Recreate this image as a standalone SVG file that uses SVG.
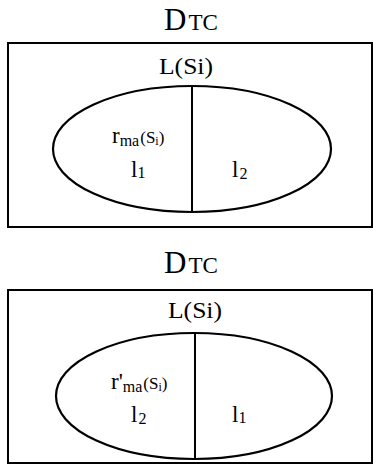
<svg xmlns="http://www.w3.org/2000/svg" width="373" height="476" viewBox="0 0 373 476">
<style>
text{font-family:"Liberation Serif","Times New Roman",serif;fill:#000}
.frame{fill:none;stroke:#000;stroke-width:2}
.ell{fill:#fff;stroke:#000;stroke-width:2.2}
.div{stroke:#000;stroke-width:2}
.big{font-size:31px}
.sc{font-size:23px}
.lab{font-size:23px}
.r{font-size:23px}
.ma{font-size:16px}
.par{font-size:17px}
.i{font-size:12px}
.n{font-size:16px}
</style>
<rect width="373" height="476" fill="#fff"/>
<g id="panel1">
  <text x="164" y="30"><tspan class="big">D</tspan><tspan class="sc" dx="2">TC</tspan></text>
  <rect class="frame" x="8" y="43" width="364" height="184"/>
  <g id="set1">
    <ellipse class="ell" cx="192" cy="149" rx="139" ry="63"/>
    <line class="div" x1="192" y1="86" x2="192" y2="212"/>
    <text class="lab" x="159" y="74" textLength="54" lengthAdjust="spacingAndGlyphs">L(Si)</text>
    <text x="112" y="143"><tspan class="r">r</tspan><tspan class="ma" dy="3">ma</tspan><tspan class="par" dy="-3" dx="1">(S</tspan><tspan class="i" dy="2">i</tspan><tspan class="par" dy="-2">)</tspan></text>
    <text x="131" y="177"><tspan class="lab">l</tspan><tspan class="n" dy="1">1</tspan></text>
    <text x="232" y="177"><tspan class="lab">l</tspan><tspan class="n" dy="2" dx="1">2</tspan></text>
  </g>
</g>
<g id="panel2">
  <text x="164" y="273"><tspan class="big">D</tspan><tspan class="sc" dx="2">TC</tspan></text>
  <rect class="frame" x="8" y="290" width="364" height="173"/>
  <g id="set2">
    <ellipse class="ell" cx="194" cy="396" rx="138" ry="63"/>
    <line class="div" x1="195" y1="333" x2="195" y2="459"/>
    <text class="lab" x="168" y="318" textLength="54" lengthAdjust="spacingAndGlyphs">L(Si)</text>
    <text x="111" y="389"><tspan class="r">r'</tspan><tspan class="ma" dy="3">ma</tspan><tspan class="par" dy="-3" dx="1">(S</tspan><tspan class="i" dy="2">i</tspan><tspan class="par" dy="-2">)</tspan></text>
    <text x="131" y="422"><tspan class="lab">l</tspan><tspan class="n" dy="2" dx="1">2</tspan></text>
    <text x="232" y="422"><tspan class="lab">l</tspan><tspan class="n" dy="1">1</tspan></text>
  </g>
</g>
</svg>
